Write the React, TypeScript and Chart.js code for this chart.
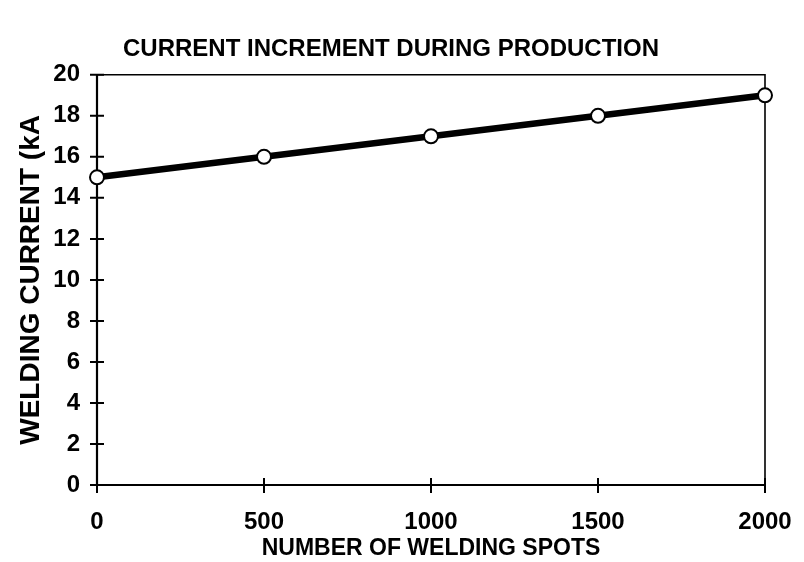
import React, { useEffect, useRef } from "react";
import { Chart, registerables } from "chart.js";

Chart.register(...registerables);

const titleText = "CURRENT INCREMENT DURING PRODUCTION";
const xTitle = "NUMBER OF WELDING SPOTS";
const yTitle = "WELDING CURRENT (kA";
const spots = [0, 500, 1000, 1500, 2000];
const currentKA = [15, 16, 17, 18, 19];
const xMin = 0, xMax = 2000, xStep = 500;
const yMin = 0, yMax = 20, yStep = 2;

const FONT = "'Liberation Sans', Arial, Helvetica, sans-serif";

const boxPlugin = {
  id: "boxAndTicks",
  beforeDatasetsDraw(chart: any) {
    const { ctx, chartArea, scales } = chart;
    const { left, right, top, bottom } = chartArea;
    ctx.save();
    ctx.strokeStyle = "#000";
    ctx.lineCap = "butt";
    ctx.lineWidth = 1.6;
    ctx.beginPath();
    ctx.moveTo(left, top);
    ctx.lineTo(right, top);
    ctx.lineTo(right, bottom);
    ctx.stroke();
    ctx.lineWidth = 2.2;
    ctx.beginPath();
    ctx.moveTo(left, top);
    ctx.lineTo(left, bottom);
    ctx.lineTo(right, bottom);
    ctx.stroke();
    ctx.lineWidth = 2;
    ctx.beginPath();
    for (let v = yMin; v <= yMax; v += yStep) {
      const y = scales.y.getPixelForValue(v);
      ctx.moveTo(left - 7, y);
      ctx.lineTo(left + 7, y);
    }
    for (let v = xMin; v <= xMax; v += xStep) {
      const x = scales.x.getPixelForValue(v);
      ctx.moveTo(x, bottom - 7);
      ctx.lineTo(x, bottom + 8);
    }
    ctx.stroke();
    ctx.restore();
  },
};

export default function App() {
  const ref = useRef<HTMLCanvasElement | null>(null);
  useEffect(() => {
    document.body.style.margin = "0";
    const canvas = ref.current;
    if (!canvas) return;
    const chart = new Chart(canvas, {
      type: "line",
      data: {
        datasets: [
          {
            data: spots.map((s, i) => ({ x: s, y: currentKA[i] })),
            borderColor: "#000",
            borderWidth: 6.5,
            pointRadius: 7,
            pointBackgroundColor: "#fff",
            pointBorderColor: "#000",
            pointBorderWidth: 2,
            tension: 0,
            clip: false as any,
          },
        ],
      },
      options: {
        animation: false,
        responsive: false,
        devicePixelRatio: 1,
        layout: { padding: { left: 0, right: 22, top: 0, bottom: 0 } },
        plugins: {
          legend: { display: false },
          tooltip: { enabled: false },
          title: {
            display: true,
            text: titleText,
            color: "#000",
            font: { family: FONT, size: 24, weight: "bold" },
            padding: { top: 35, bottom: 11 },
          },
        },
        scales: {
          x: {
            type: "linear",
            min: xMin,
            max: xMax,
            grid: { display: false, drawTicks: false },
            border: { display: false },
            afterFit: (scale: any) => {
              scale.height = 77;
              scale.paddingRight = 39;
            },
            ticks: {
              stepSize: xStep,
              color: "#000",
              font: { family: FONT, size: 24, weight: "bold" },
              padding: 23,
              maxRotation: 0,
              callback: (v: any) => String(v),
            },
            title: {
              display: true,
              text: xTitle,
              color: "#000",
              font: { family: FONT, size: 23, weight: "bold" },
              padding: { top: 0, bottom: 0 },
            },
          },
          y: {
            type: "linear",
            min: yMin,
            max: yMax,
            grid: { display: false, drawTicks: false },
            border: { display: false },
            afterFit: (scale: any) => {
              scale.width = 97;
            },
            ticks: {
              stepSize: yStep,
              color: "#000",
              font: { family: FONT, size: 24, weight: "bold" },
              padding: 17,
              callback: (v: any) => String(v),
            },
            title: {
              display: true,
              text: yTitle,
              color: "#000",
              font: { family: FONT, size: 28, weight: "bold" },
              padding: { top: 14, bottom: 0 },
            },
          },
        },
      },
      plugins: [boxPlugin],
    });
    return () => chart.destroy();
  }, []);
  return (
    <div style={{ position: "absolute", left: 0, top: 0, width: 804, height: 562, background: "#fff" }}>
      <canvas ref={ref} width={804} height={562} />
    </div>
  );
}
